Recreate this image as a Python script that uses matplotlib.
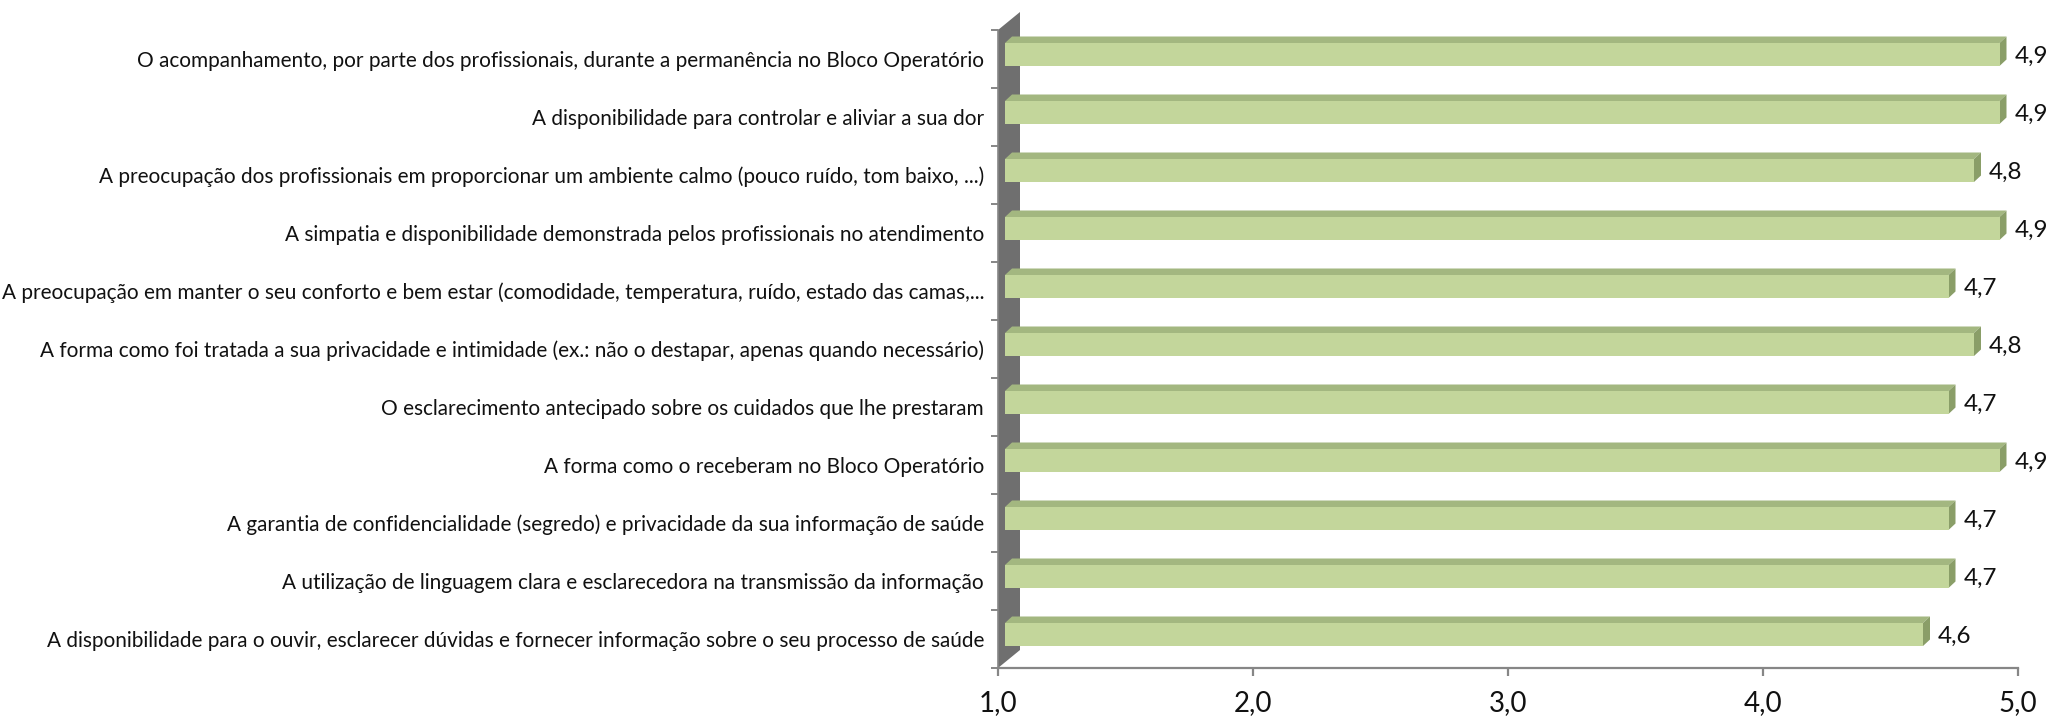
import matplotlib
matplotlib.use('Agg')
import matplotlib.pyplot as plt
from matplotlib.patches import Polygon
import numpy as np

categories = [
    "O acompanhamento, por parte dos profissionais, durante a permanência no Bloco Operatório",
    "A disponibilidade para controlar e aliviar a sua dor",
    "A preocupação dos profissionais em proporcionar um ambiente calmo (pouco ruído, tom baixo, ...)",
    "A simpatia e disponibilidade demonstrada pelos profissionais no atendimento",
    "A preocupação em manter o seu conforto e bem estar (comodidade, temperatura, ruído, estado das camas,...",
    "A forma como foi tratada a sua privacidade e intimidade (ex.: não o destapar, apenas quando necessário)",
    "O esclarecimento antecipado sobre os cuidados que lhe prestaram",
    "A forma como o receberam no Bloco Operatório",
    "A garantia de confidencialidade (segredo) e privacidade da sua informação de saúde",
    "A utilização de linguagem clara e esclarecedora na transmissão da informação",
    "A disponibilidade para o ouvir, esclarecer dúvidas e fornecer informação sobre o seu processo de saúde",
]
values = [4.9, 4.9, 4.8, 4.9, 4.7, 4.8, 4.7, 4.9, 4.7, 4.7, 4.6]
xticks = [1.0, 2.0, 3.0, 4.0, 5.0]
xtick_labels = ["1,0", "2,0", "3,0", "4,0", "5,0"]
value_labels = [f"{v:.1f}".replace(".", ",") for v in values]

plt.rcParams['font.family'] = ['Lato', 'DejaVu Sans']

W, H = 2053, 716
fig = plt.figure(figsize=(W / 100, H / 100), dpi=100)
ax = fig.add_axes([998 / W, 1 - 668 / H, 1020 / W, 638 / H])
n = len(categories)
ypos = np.arange(n)[::-1].astype(float)
ax.set_xlim(1, 5)
ax.set_ylim(-0.5, n - 0.5)

ax_w_px = ax.get_position().width * fig.bbox.width
ax_h_px = ax.get_position().height * fig.bbox.height
ppx = ax_w_px / 4.0
ppy = ax_h_px / n

FACE = '#C3D69B'
TOP = '#A3B780'
SIDE = '#8A9E68'
WALL = '#6F6F6F'
AXC = '#868686'
TXT = '#111111'

off = 7 / ppx
dx = 7 / ppx
dy = 6.5 / ppy
face_bot = -7 / ppy
face_h = 23 / ppy

# side wall
wdx = 22 / ppx
wdy = 18 / ppy
wall = Polygon([(1, -0.5), (1 + wdx, -0.5 + wdy), (1 + wdx, n - 0.5 + wdy), (1, n - 0.5)],
               closed=True, fc=WALL, ec='none', clip_on=False, zorder=1)
ax.add_patch(wall)

vals = np.array(values)
ax.barh(ypos + face_bot, vals - 1, left=1 + off, height=face_h, align='edge',
        color=FACE, edgecolor='none', zorder=4)

for y, v, lab in zip(ypos, vals, value_labels):
    yb = y + face_bot
    yt = yb + face_h
    top = Polygon([(1 + off, yt), (v + off, yt), (v + off + dx, yt + dy), (1 + off + dx, yt + dy)],
                  closed=True, fc=TOP, ec='none', clip_on=False, zorder=3)
    side = Polygon([(v + off, yb), (v + off + dx, yb + dy), (v + off + dx, yt + dy), (v + off, yt)],
                   closed=True, fc=SIDE, ec='none', clip_on=False, zorder=3)
    ax.add_patch(top)
    ax.add_patch(side)
    ax.text(v + off + dx + 8 / ppx, y + 0.05, lab, ha='left', va='center',
            fontsize=17.5, color=TXT, zorder=5, clip_on=False)

for s in ['top', 'right']:
    ax.spines[s].set_visible(False)
ax.spines['bottom'].set_color(AXC)
ax.spines['bottom'].set_linewidth(1.6)
ax.spines['left'].set_color(AXC)
ax.spines['left'].set_linewidth(1.2)
ax.spines['left'].set_zorder(2)

ax.set_xticks(xticks)
ax.set_xticklabels(xtick_labels, fontsize=20, color=TXT)
ax.tick_params(axis='x', length=6, width=1.6, color=AXC, pad=10)

ax.set_yticks(ypos)
ax.set_yticklabels(categories, fontsize=13, color=TXT)
ax.set_yticks(np.arange(n + 1) - 0.5, minor=True)
ax.tick_params(axis='y', which='major', length=0, pad=10)
ax.tick_params(axis='y', which='minor', length=5, width=1.4, color=AXC)

# fit category label font size so the longest label spans the reference width
renderer = fig.canvas.get_renderer()
labels = ax.get_yticklabels()
widest = max(l.get_window_extent(renderer).width for l in labels)
target = 978.0
new_fs = 13 * target / widest
for l in labels:
    l.set_fontsize(new_fs)

fig.savefig('out.png', dpi=100, facecolor='white')
